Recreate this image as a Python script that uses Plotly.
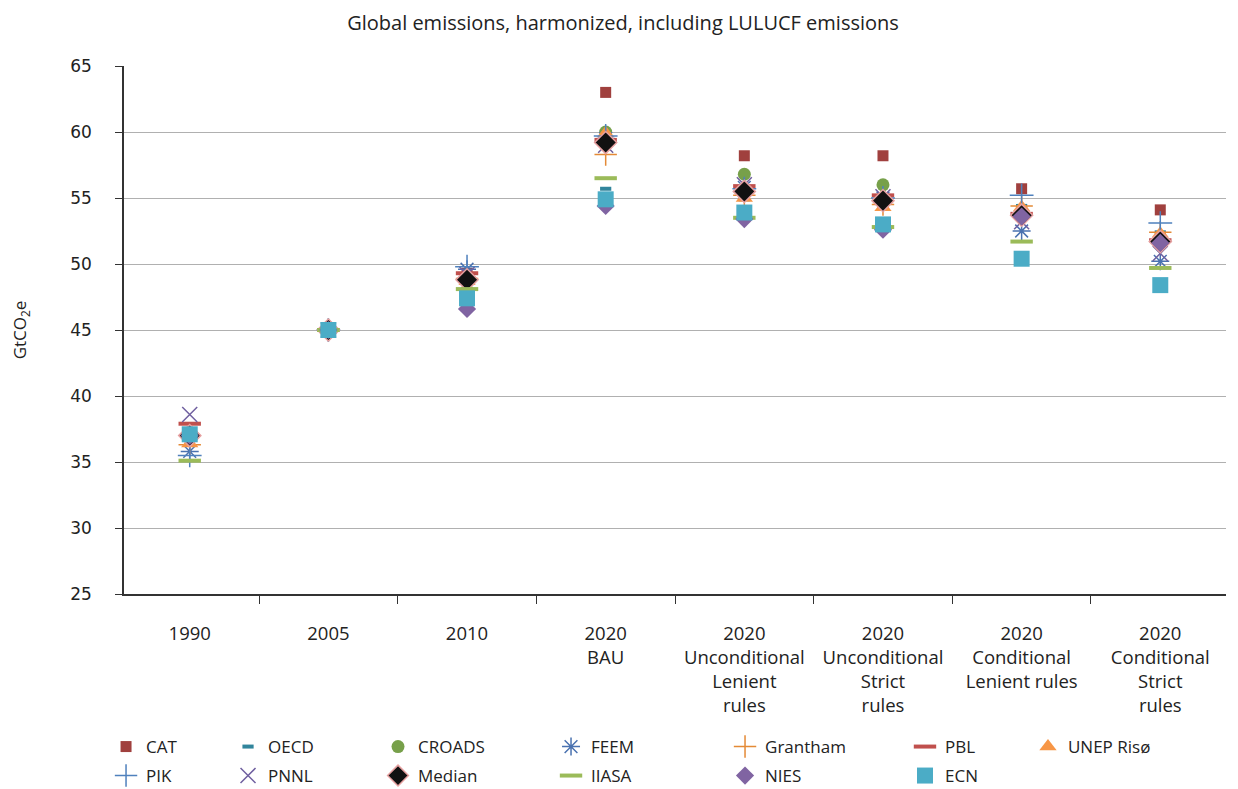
import plotly.graph_objects as go

categories = ["1990", "2005", "2010", "2020<br>BAU", "2020<br>Unconditional<br>Lenient<br>rules",
              "2020<br>Unconditional<br>Strict<br>rules", "2020<br>Conditional<br>Lenient rules",
              "2020<br>Conditional<br>Strict<br>rules"]

cat_vals      = [37.0, 45, 49.3, 63.0, 58.2, 58.2, 55.7, 54.1]
oecd_vals     = [37.0, 45, 47.5, 55.7, 54.9, 54.4, 54.4, 52.4]
croads_vals   = [37.0, 45, 48.0, 60.0, 56.8, 56.0, 53.7, 51.7]
feem_vals     = [35.8, 45, 49.6, 59.5, 55.8, 55.0, 52.5, 50.2]
grantham_vals = [36.3, 45, 48.9, 58.3, 55.2, 54.5, 54.4, 52.4]
pbl_vals      = [37.9, 45, 49.3, 59.4, 55.9, 55.2, 53.8, 51.8]
unep_vals     = [36.4, 45, 48.7, 59.9, 55.0, 54.3, 54.3, 52.3]
pik_vals      = [35.5, 45, 49.8, 59.7, 55.7, 55.0, 55.2, 53.1]
pnnl_vals     = [38.6, 45, 49.2, 59.0, 56.0, 55.1, 53.2, 50.8]
median_vals   = [37.0, 45, 48.8, 59.2, 55.5, 54.8, 53.7, 51.7]
iiasa_vals    = [35.1, 45, 48.1, 56.5, 53.5, 52.8, 51.7, 49.7]
nies_vals     = [37.0, 45, 46.6, 54.4, 53.4, 52.6, 53.6, 51.6]
ecn_vals      = [37.1, 45, 47.4, 54.9, 53.9, 53.0, 50.4, 48.4]

series = [
    ("CAT", cat_vals, dict(symbol="square", size=11, color="#A0403E")),
    ("OECD", oecd_vals, dict(symbol="line-ew-open", size=8, color="#31859C", line=dict(width=4, color="#31859C"))),
    ("CROADS", croads_vals, dict(symbol="circle", size=13, color="#77A04A")),
    ("FEEM", feem_vals, dict(symbol="asterisk-open", size=15, color="#4A72B0", line=dict(width=1.5, color="#4A72B0"))),
    ("Grantham", grantham_vals, dict(symbol="cross-thin-open", size=16, color="#E48A36", line=dict(width=1.5, color="#E48A36"))),
    ("PBL", pbl_vals, dict(symbol="line-ew-open", size=16, color="#C0504D", line=dict(width=4, color="#C0504D"))),
    ("UNEP Risø", unep_vals, dict(symbol="triangle-up", size=15, color="#F79646")),
    ("PIK", pik_vals, dict(symbol="cross-thin-open", size=17, color="#4F81BD", line=dict(width=1.5, color="#4F81BD"))),
    ("PNNL", pnnl_vals, dict(symbol="x-thin-open", size=15, color="#7060A0", line=dict(width=1.5, color="#7060A0"))),
    ("Median", median_vals, dict(symbol="diamond", size=17, color="#111111", line=dict(width=1.5, color="#E6A0A0"))),
    ("IIASA", iiasa_vals, dict(symbol="line-ew-open", size=16, color="#9BBB59", line=dict(width=4, color="#9BBB59"))),
    ("NIES", nies_vals, dict(symbol="diamond", size=14, color="#8064A2")),
    ("ECN", ecn_vals, dict(symbol="square", size=16, color="#4BACC6")),
]

# legend slot (column, row) for each series, in the reference's layout
legend_cols = [-0.0163, 0.0944, 0.2305, 0.3875, 0.5454, 0.7087, 0.8203]
legend_rows = [-0.2898, -0.3447]
slots = [(0, 0), (1, 0), (2, 0), (3, 0), (4, 0), (5, 0), (6, 0),
         (0, 1), (1, 1), (2, 1), (3, 1), (4, 1), (5, 1)]

fig = go.Figure()
legend_layouts = {}
for i, ((name, vals, marker), (c, r)) in enumerate(zip(series, slots)):
    lname = "legend" if i == 0 else f"legend{i + 1}"
    fig.add_trace(go.Scatter(x=categories, y=vals, mode="markers", name=name,
                             marker=marker, legend=lname))
    legend_layouts[lname] = dict(x=legend_cols[c], xanchor="left", y=legend_rows[r],
                                 yanchor="middle", orientation="v",
                                 font=dict(size=17), itemsizing="trace",
                                 bgcolor="rgba(0,0,0,0)")

fig.update_layout(
    width=1230, height=781,
    paper_bgcolor="white", plot_bgcolor="white",
    margin=dict(l=116, r=12, t=58, b=195, autoexpand=False),
    font=dict(family="Open Sans, DejaVu Sans, sans-serif", size=16, color="#222222"),
    title=dict(text="Global emissions, harmonized, including LULUCF emissions",
               x=0.5, xanchor="center", y=0.981, yanchor="middle",
               font=dict(size=20, color="#222222")),
    showlegend=True,
    **legend_layouts,
)
fig.update_xaxes(type="category", showline=True, linecolor="#333333", linewidth=1.5,
                 ticks="outside", tickson="boundaries", ticklen=8, tickcolor="#333333",
                 showgrid=False, tickfont=dict(size=18.5), ticklabelstandoff=22,
                 automargin=False)
fig.update_yaxes(range=[25, 65], dtick=5, showline=True, linecolor="#333333", linewidth=1.5,
                 ticks="outside", ticklen=7, tickcolor="#333333",
                 showgrid=True, gridcolor="#B0B0B0", gridwidth=1.2,
                 zeroline=False, tickfont=dict(size=17, family="DejaVu Sans"),
                 ticklabelstandoff=20, automargin=False,
                 title=dict(text="GtCO<sub>2</sub>e", font=dict(size=17), standoff=40))

fig.write_html("out.html")
